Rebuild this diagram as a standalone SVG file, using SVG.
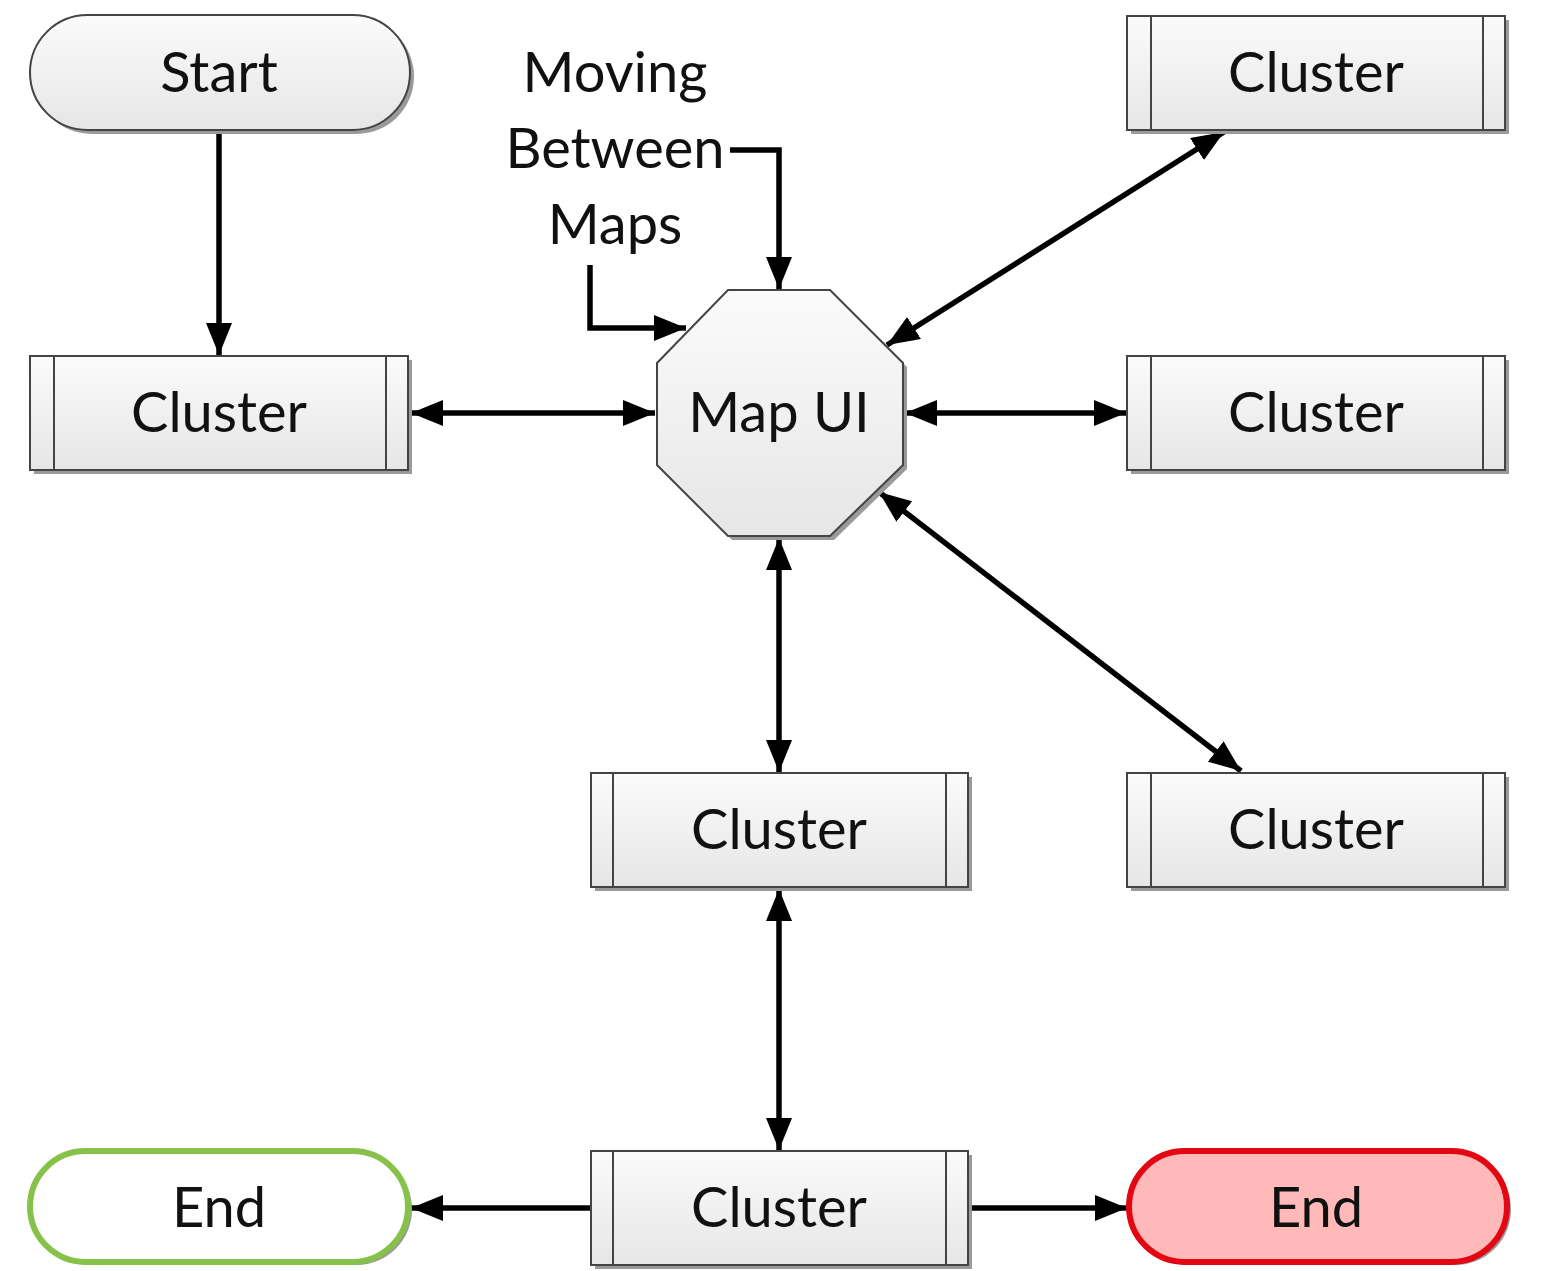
<svg xmlns="http://www.w3.org/2000/svg" width="1559" height="1271" viewBox="0 0 1559 1271">
  <defs>
    <linearGradient id="gFill" x1="0" y1="0" x2="0" y2="1">
      <stop offset="0" stop-color="#fbfbfb"/>
      <stop offset="1" stop-color="#e6e6e6"/>
    </linearGradient>
    <marker id="ah" viewBox="0 0 32 26" refX="32" refY="13" markerWidth="32" markerHeight="26" markerUnits="userSpaceOnUse" orient="auto-start-reverse">
      <path d="M0,0 L32,13 L0,26 Z" fill="#000"/>
    </marker>
    <style>
      .box { fill: url(#gFill); stroke: #444; stroke-width: 2; }
      .shadow { fill: #9a9a9a; }
      .bar { stroke: #444; stroke-width: 2; fill: none; }
      .lbl { font-family: Lato, "Open Sans", sans-serif; font-size: 56px; fill: #111; text-anchor: middle; }
      .wire { stroke: #000; stroke-width: 5.5; fill: none; }
    </style>
  </defs>
  <rect width="1559" height="1271" fill="#fff"/>

  <!-- connectors -->
  <g id="connectors">
    <line class="wire" x1="219" y1="130" x2="219" y2="355" marker-end="url(#ah)"/>
    <line class="wire" x1="411" y1="413" x2="655" y2="413" marker-start="url(#ah)" marker-end="url(#ah)"/>
    <line class="wire" x1="905" y1="413" x2="1126" y2="413" marker-start="url(#ah)" marker-end="url(#ah)"/>
    <line class="wire" x1="887" y1="345" x2="1224" y2="132" marker-start="url(#ah)" marker-end="url(#ah)"/>
    <line class="wire" x1="879" y1="492" x2="1241" y2="771" marker-start="url(#ah)" marker-end="url(#ah)"/>
    <line class="wire" x1="779" y1="538" x2="779" y2="772" marker-start="url(#ah)" marker-end="url(#ah)"/>
    <line class="wire" x1="779" y1="889" x2="779" y2="1150" marker-start="url(#ah)" marker-end="url(#ah)"/>
    <line class="wire" x1="591" y1="1208" x2="411" y2="1208" marker-end="url(#ah)"/>
    <line class="wire" x1="968" y1="1208" x2="1127" y2="1208" marker-end="url(#ah)"/>
    <polyline class="wire" points="730,150 779,150 779,289" marker-end="url(#ah)"/>
    <polyline class="wire" points="590,265 590,328 686,328" marker-end="url(#ah)"/>
  </g>

  <!-- Start terminator -->
  <g id="start">
    <rect class="shadow" x="34" y="19" width="380" height="115" rx="57.5"/>
    <rect class="box" x="30" y="15" width="380" height="115" rx="57.5"/>
    <text class="lbl" x="219" y="92">Start</text>
  </g>

  <!-- note text -->
  <g id="note">
    <text class="lbl" x="615" y="92">Moving</text>
    <text class="lbl" x="615" y="168">Between</text>
    <text class="lbl" x="615" y="244">Maps</text>
  </g>

  <!-- Map UI octagon -->
  <g id="mapui">
    <polygon class="shadow" points="732,294 834,294 907,367 907,469 834,540 732,540 661,469 661,367"/>
    <polygon class="box" points="728,290 830,290 903,363 903,465 830,536 728,536 657,465 657,363"/>
    <text class="lbl" x="779" y="432">Map UI</text>
  </g>

  <!-- Cluster (left) -->
  <g id="cluster-left">
    <rect class="shadow" x="34" y="360" width="378" height="114"/>
    <rect class="box" x="30" y="356" width="378" height="114"/>
    <line class="bar" x1="54" y1="356" x2="54" y2="470"/>
    <line class="bar" x1="386" y1="356" x2="386" y2="470"/>
    <text class="lbl" x="219" y="432">Cluster</text>
  </g>

  <!-- Cluster (top right) -->
  <g id="cluster-top-right">
    <rect class="shadow" x="1131" y="20" width="378" height="114"/>
    <rect class="box" x="1127" y="16" width="378" height="114"/>
    <line class="bar" x1="1151" y1="16" x2="1151" y2="130"/>
    <line class="bar" x1="1483" y1="16" x2="1483" y2="130"/>
    <text class="lbl" x="1316" y="92">Cluster</text>
  </g>

  <!-- Cluster (middle right) -->
  <g id="cluster-mid-right">
    <rect class="shadow" x="1131" y="360" width="378" height="114"/>
    <rect class="box" x="1127" y="356" width="378" height="114"/>
    <line class="bar" x1="1151" y1="356" x2="1151" y2="470"/>
    <line class="bar" x1="1483" y1="356" x2="1483" y2="470"/>
    <text class="lbl" x="1316" y="432">Cluster</text>
  </g>

  <!-- Cluster (bottom right) -->
  <g id="cluster-bottom-right">
    <rect class="shadow" x="1131" y="777" width="378" height="114"/>
    <rect class="box" x="1127" y="773" width="378" height="114"/>
    <line class="bar" x1="1151" y1="773" x2="1151" y2="887"/>
    <line class="bar" x1="1483" y1="773" x2="1483" y2="887"/>
    <text class="lbl" x="1316" y="849">Cluster</text>
  </g>

  <!-- Cluster (centre) -->
  <g id="cluster-centre">
    <rect class="shadow" x="595" y="777" width="377" height="114"/>
    <rect class="box" x="591" y="773" width="377" height="114"/>
    <line class="bar" x1="613" y1="773" x2="613" y2="887"/>
    <line class="bar" x1="946" y1="773" x2="946" y2="887"/>
    <text class="lbl" x="779" y="849">Cluster</text>
  </g>

  <!-- Cluster (bottom) -->
  <g id="cluster-bottom">
    <rect class="shadow" x="595" y="1155" width="377" height="114"/>
    <rect class="box" x="591" y="1151" width="377" height="114"/>
    <line class="bar" x1="613" y1="1151" x2="613" y2="1265"/>
    <line class="bar" x1="946" y1="1151" x2="946" y2="1265"/>
    <text class="lbl" x="779" y="1227">Cluster</text>
  </g>

  <!-- End (green) -->
  <g id="end-green">
    <rect x="34" y="1154" width="378" height="111" rx="55.5" fill="#9a9a9a"/>
    <rect x="30" y="1151" width="378" height="111" rx="55.5" fill="#fff" stroke="#86c24a" stroke-width="6"/>
    <text class="lbl" x="219" y="1227">End</text>
  </g>

  <!-- End (red) -->
  <g id="end-red">
    <rect x="1133" y="1154" width="378" height="111" rx="55.5" fill="#9a9a9a"/>
    <rect x="1129" y="1151" width="378" height="111" rx="55.5" fill="#ffb9b9" stroke="#e30613" stroke-width="6"/>
    <text class="lbl" x="1316" y="1227">End</text>
  </g>
</svg>
